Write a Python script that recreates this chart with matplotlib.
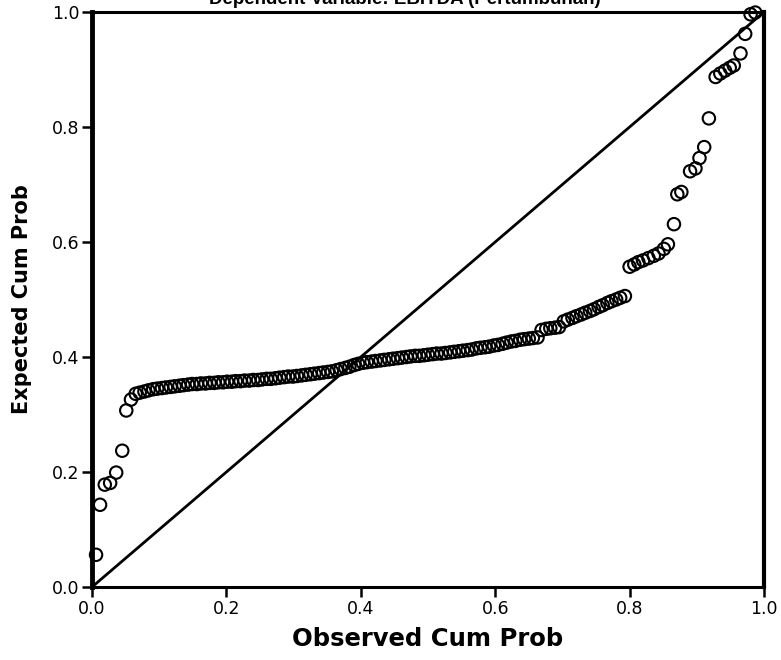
import matplotlib
matplotlib.use("Agg")
import matplotlib.pyplot as plt

# Observed cumulative probability (x) and expected cumulative probability (y)
head_obs = [0.006, 0.012, 0.019, 0.027, 0.036, 0.045, 0.051, 0.058, 0.065, 0.071]
head_exp = [0.056, 0.143, 0.178, 0.181, 0.199, 0.237, 0.307, 0.326, 0.336, 0.338]

band_obs = [
    0.078, 0.084, 0.091, 0.097, 0.104, 0.110, 0.117, 0.123, 0.130, 0.136,
    0.143, 0.149, 0.156, 0.162, 0.169, 0.175, 0.182, 0.188, 0.195, 0.201,
    0.208, 0.214, 0.221, 0.227, 0.234, 0.240, 0.247, 0.253, 0.260, 0.266,
    0.273, 0.279, 0.286, 0.292, 0.299, 0.305, 0.312, 0.318, 0.325, 0.331,
    0.338, 0.344, 0.351, 0.357, 0.364, 0.370, 0.377, 0.383, 0.390, 0.396,
    0.403, 0.409, 0.416, 0.422, 0.429, 0.435, 0.442, 0.448, 0.455, 0.461,
    0.468, 0.474, 0.481, 0.487, 0.494, 0.500, 0.507, 0.513, 0.520, 0.526,
    0.533, 0.539, 0.546, 0.552, 0.559, 0.565, 0.572, 0.578, 0.585, 0.591,
    0.598, 0.604, 0.611, 0.617, 0.624, 0.630, 0.637, 0.643, 0.650, 0.656,
    0.663, 0.669, 0.676, 0.682, 0.689, 0.695, 0.702, 0.708, 0.715, 0.721,
    0.728, 0.734, 0.741, 0.747, 0.754, 0.760, 0.767, 0.773, 0.780, 0.786,
]
band_exp = [
    0.340, 0.342, 0.344, 0.345, 0.346, 0.347, 0.348, 0.349, 0.350, 0.351,
    0.352, 0.353, 0.353, 0.354, 0.354, 0.355, 0.355, 0.356, 0.356, 0.357,
    0.357, 0.358, 0.358, 0.359, 0.359, 0.360, 0.360, 0.361, 0.362, 0.362,
    0.363, 0.364, 0.365, 0.366, 0.366, 0.367, 0.368, 0.369, 0.370, 0.371,
    0.372, 0.373, 0.374, 0.375, 0.377, 0.379, 0.381, 0.383, 0.386, 0.388,
    0.390, 0.391, 0.392, 0.393, 0.394, 0.395, 0.396, 0.397, 0.398, 0.399,
    0.400, 0.401, 0.402, 0.402, 0.403, 0.404, 0.405, 0.406, 0.406, 0.407,
    0.408, 0.409, 0.410, 0.411, 0.412, 0.413, 0.415, 0.416, 0.417, 0.418,
    0.420, 0.421, 0.423, 0.425, 0.427, 0.428, 0.430, 0.431, 0.432, 0.433,
    0.434, 0.447, 0.449, 0.450, 0.451, 0.452, 0.462, 0.465, 0.468, 0.471,
    0.474, 0.477, 0.480, 0.483, 0.487, 0.490, 0.494, 0.497, 0.500, 0.503,
]

tail_obs = [0.793, 0.800, 0.807, 0.813, 0.820, 0.828, 0.836, 0.843, 0.851, 0.857,
            0.866, 0.871, 0.877, 0.890, 0.898, 0.904, 0.911, 0.918, 0.928, 0.935,
            0.942, 0.949, 0.955, 0.965, 0.972, 0.980, 0.987]
tail_exp = [0.506, 0.557, 0.561, 0.565, 0.568, 0.572, 0.576, 0.580, 0.588, 0.596,
            0.631, 0.683, 0.687, 0.723, 0.728, 0.746, 0.765, 0.815, 0.887, 0.893,
            0.898, 0.903, 0.907, 0.928, 0.962, 0.996, 0.999]

ticks = [0.0, 0.2, 0.4, 0.6, 0.8, 1.0]
tick_labels = ["0.0", "0.2", "0.4", "0.6", "0.8", "1.0"]
title = "Dependent Variable: EBITDA (Pertumbuhan)"
xlabel = "Observed Cum Prob"
ylabel = "Expected Cum Prob"

plt.rcParams['font.family'] = ['DejaVu Sans']

fig = plt.figure(figsize=(7.81, 6.60), dpi=100)
ax = fig.add_axes([92/781, 1-587/660, 672/781, 575/660])

obs = head_obs + band_obs + tail_obs
exp = head_exp + band_exp + tail_exp

ax.plot([0, 1], [0, 1], color='black', lw=2.0, zorder=2)
ax.scatter(obs, exp, s=80, facecolors='none', edgecolors='black',
           linewidths=1.5, zorder=3, clip_on=False)

ax.set_xlim(0, 1)
ax.set_ylim(0, 1)
ax.set_xticks(ticks)
ax.set_xticklabels(tick_labels)
ax.set_yticks(ticks)
ax.set_yticklabels(tick_labels)
ax.tick_params(direction='out', length=7, width=1.8, labelsize=12.5,
               colors='black', pad=2)

for side, w in [('left', 3.5), ('bottom', 2.2), ('top', 2.2), ('right', 3.0)]:
    ax.spines[side].set_linewidth(w)
    ax.spines[side].set_color('black')

ax.set_xlabel(xlabel, fontsize=17.5, fontweight='bold', labelpad=7)
ax.set_ylabel(ylabel, fontsize=15, fontweight='bold', labelpad=14)

fig.text(0.518, 1.0, title, ha='center', va='center', fontsize=13.5,
         fontweight='bold', family=['Liberation Sans', 'DejaVu Sans'])

fig.savefig("out.png", dpi=100)
